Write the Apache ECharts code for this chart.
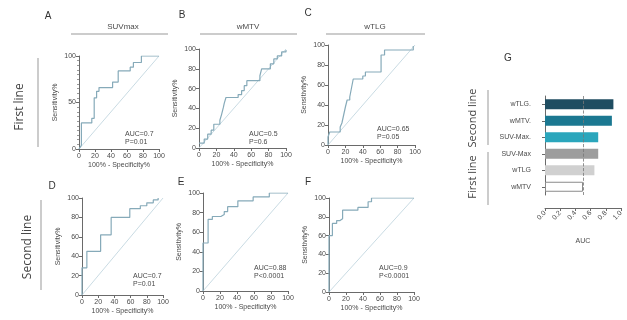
<!DOCTYPE html>
<html><head><meta charset="utf-8">
<script src="https://cdn.jsdelivr.net/npm/echarts@6/dist/echarts.min.js"></script>
<style>html,body{margin:0;padding:0;background:#fff}#c{width:627px;height:320px}</style>
</head><body><div id="c"></div>
<script>
// ---- data ----
const rocA = [[0,0],[3,4],[3,28],[16,28],[16,33],[19,33],[19,55],[22,55],[22,62],[25,62],[25,66],[42,66],[42,72],[49,72],[49,84],[64,84],[64,88],[68,88],[68,93],[78,93],[78,100],[100,100]];
const rocB = [[0,5],[6,5],[6,9],[10,9],[10,14],[14,14],[14,18],[17,18],[17,24],[24,24],[24,28],[26,28],[26,34],[28,34],[28,41],[29,41],[29,45],[31,45],[31,51],[45,51],[45,54],[49,54],[49,58],[52,58],[52,63],[55,63],[55,68],[70,68],[70,73],[72,73],[72,80],[82,80],[82,85],[86,85],[86,90],[90,90],[90,93],[95,93],[95,97],[100,97],[100,99]];
const rocC = [[0,0],[0,8],[2,8],[2,13],[14,13],[14,18],[16,18],[16,22],[18,22],[18,30],[20,30],[20,38],[22,38],[22,45],[25,45],[25,48],[27,48],[27,57],[29,57],[29,66],[40,66],[40,69],[43,69],[43,73],[61,73],[61,90],[65,90],[65,95],[98,95],[98,99]];
const rocD = [[0,0],[0,28],[6,28],[6,45],[23,45],[23,62],[36,62],[36,80],[59,80],[59,89],[72,89],[72,92],[80,92],[80,95],[88,95],[88,98],[94,98],[94,100]];
const rocE = [[0,0],[0,49],[6,49],[6,73],[11,73],[11,76],[21,76],[21,78],[25,78],[25,81],[29,81],[29,86],[41,86],[41,92],[59,92],[59,96],[78,96],[78,100],[100,100]];
const rocF = [[0,0],[0,60],[4,60],[4,73],[9,73],[9,76],[13,76],[13,78],[16,78],[16,87],[34,87],[34,90],[46,90],[46,96],[50,96],[50,100],[100,100]];
const diagonal = [[0,0],[100,100]];
const panelLetters = ['A','B','C','D','E','F','G'];
const topTitles = ['SUVmax','wMTV','wTLG'];
const aucLabels = ['AUC=0.7','AUC=0.5','AUC=0.65','AUC=0.7','AUC=0.88','AUC=0.9'];
const pLabels = ['P=0.01','P=0.6','P=0.05','P=0.01','P<0.0001','P<0.0001'];
const xAxisTitle = '100% - Specificity%';
const yAxisTitle = 'Sensitivity%';
const rowLabels = ['First line','Second line'];
const barCategories = ['wTLG.','wMTV.','SUV-Max.','SUV-Max','wTLG','wMTV'];
const barValues = [0.90,0.88,0.70,0.70,0.65,0.50];
const barAxisTitle = 'AUC';
const aucReference = 0.5;

// ---- layout / style ----
const curveColor = '#86aab9';
const diagColor = '#c9dbe3';
const axisColor = '#6a6a6a';
const textColor = '#4a4a4a';
const barColors = ['#1f4d61','#1b7891','#2ba6bc','#9d9d9d','#d0d0d0','#ffffff'];
const panels = [
  {data: rocA, left:79, top:56, width:80, height:93, yInterval:50, minor:true, auc:[125,130]},
  {data: rocB, left:199, top:49, width:87, height:99, yInterval:20, auc:[249,130]},
  {data: rocC, left:328, top:45, width:87, height:100, yInterval:20, auc:[377,125]},
  {data: rocD, left:82, top:198, width:81, height:97, yInterval:20, auc:[133,272]},
  {data: rocE, left:203, top:193, width:85, height:98, yInterval:20, auc:[254,264]},
  {data: rocF, left:329, top:198, width:85, height:94, yInterval:20, auc:[379,264]}
];
const lbl = {fontSize:7, color:textColor, fontFamily:'Liberation Sans'};

const grid=[], xAxis=[], yAxis=[], series=[], graphic=[];
panels.forEach((p,i)=>{
  grid.push({left:p.left, top:p.top, width:p.width, height:p.height});
  xAxis.push({type:'value', gridIndex:i, min:0, max:100, interval:20,
    axisLine:{show:true, lineStyle:{color:axisColor, width:1}},
    axisTick:{show:true, length:3, lineStyle:{color:axisColor}},
    axisLabel:Object.assign({margin:4}, lbl), splitLine:{show:false},
    name:xAxisTitle, nameLocation:'middle', nameGap:13,
    nameTextStyle:{fontSize:7, color:textColor, fontFamily:'Liberation Sans'}});
  yAxis.push({type:'value', gridIndex:i, min:0, max:100, interval:p.yInterval,
    axisLine:{show:true, lineStyle:{color:axisColor, width:1}},
    axisTick:{show:true, length:3, lineStyle:{color:axisColor}},
    minorTick:{show:!!p.minor, splitNumber:10, length:2, lineStyle:{color:'#999'}},
    axisLabel:Object.assign({margin:3}, lbl), splitLine:{show:false},
    name:yAxisTitle, nameLocation:'middle', nameGap:20,
    nameTextStyle:{fontSize:7, color:textColor, fontFamily:'Liberation Sans'}});
  series.push({type:'line', xAxisIndex:i, yAxisIndex:i, data:diagonal, symbol:'none',
    lineStyle:{color:diagColor, width:1}, silent:true, z:1});
  series.push({type:'line', xAxisIndex:i, yAxisIndex:i, data:p.data, symbol:'none',
    lineStyle:{color:curveColor, width:1.2}, silent:true, z:2});
  graphic.push({type:'text', left:p.auc[0], top:p.auc[1], style:{text:aucLabels[i]+'\n'+pLabels[i], fontSize:7, lineHeight:8, fill:textColor, fontFamily:'Liberation Sans'}});
});

// bar panel G
const gi = panels.length;
grid.push({left:545, top:96, width:76, height:99});
xAxis.push({type:'value', gridIndex:gi, min:0, max:1, interval:0.2, offset:13,
  axisLine:{show:true, lineStyle:{color:axisColor}},
  axisTick:{show:true, length:3, lineStyle:{color:axisColor}},
  axisLabel:Object.assign({margin:4, rotate:45, formatter:v=>v.toFixed(1)}, lbl),
  splitLine:{show:false},
  name:barAxisTitle, nameLocation:'middle', nameGap:30,
  nameTextStyle:{fontSize:7, color:textColor, fontFamily:'Liberation Sans'}});
yAxis.push({type:'category', gridIndex:gi, data:barCategories, inverse:true, offset:11,
  axisLine:{show:true, lineStyle:{color:axisColor}},
  axisTick:{show:true, length:3, alignWithLabel:true, lineStyle:{color:axisColor}},
  axisLabel:Object.assign({margin:3}, lbl)});
series.push({type:'bar', xAxisIndex:gi, yAxisIndex:gi, barWidth:10,
  data:barValues.map((v,k)=>({value:v, itemStyle:{color:barColors[k], borderColor: k===5?'#8a8a8a':barColors[k], borderWidth: k===5?1:0}})),
  markLine:{symbol:'none', silent:true, label:{show:false},
    lineStyle:{color:'#777', type:'dashed', width:0.8},
    data:[{xAxis:aucReference}]}});

// annotations
const letterPos = [[48,16],[182,15],[308,13],[52,186],[181,182],[308,182],[508,58]];
letterPos.forEach((q,k)=>graphic.push({type:'text', x:q[0], y:q[1], style:{text:panelLetters[k], fontSize:10, fill:'#333', fontFamily:'Liberation Sans', align:'center', verticalAlign:'middle'}}));
const titlePos = [[123,71,168],[248,200,297],[375,326,425]];
titlePos.forEach((q,k)=>{
  graphic.push({type:'text', x:q[0], y:27, style:{text:topTitles[k], fontSize:8, fill:textColor, fontFamily:'Liberation Sans', align:'center', verticalAlign:'middle'}});
  graphic.push({type:'line', shape:{x1:q[1], y1:34, x2:q[2], y2:34}, style:{stroke:'#999', lineWidth:1}});
});
const rowPos = [[20,107,38,58,147],[28,247,41,200,290],[473,177,488,152,205]];
const rowText = [rowLabels[0], rowLabels[1], rowLabels[0]];
rowPos.forEach((q,k)=>{
  graphic.push({type:'text', x:q[0], y:q[1], rotation:Math.PI/2, style:{text:rowText[k], fontSize:k===2?11:12, fill:'#444', fontFamily:'Open Sans', align:'center', verticalAlign:'middle'}});
  graphic.push({type:'line', shape:{x1:q[2], y1:q[3], x2:q[2], y2:q[4]}, style:{stroke:'#999', lineWidth:1}});
});
graphic.push({type:'text', x:473, y:118, rotation:Math.PI/2, style:{text:rowLabels[1], fontSize:11, fill:'#444', fontFamily:'Open Sans', align:'center', verticalAlign:'middle'}});
graphic.push({type:'line', shape:{x1:488, y1:90, x2:488, y2:145}, style:{stroke:'#999', lineWidth:1}});

const chart = echarts.init(document.getElementById('c'), null, {renderer:'canvas'});
chart.setOption({animation:false, backgroundColor:'#fff', grid, xAxis, yAxis, series, graphic});
</script></body></html>
